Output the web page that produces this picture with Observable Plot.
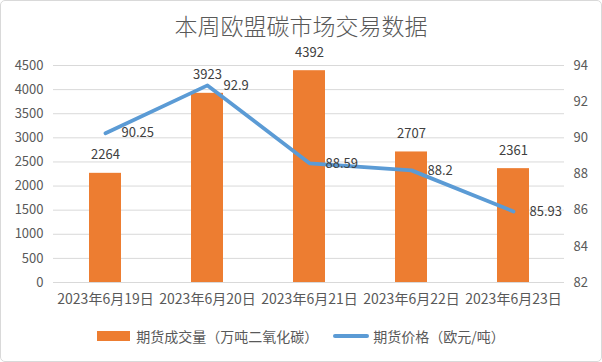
<!DOCTYPE html>
<html>
<head>
<meta charset="utf-8">
<script src="https://cdn.jsdelivr.net/npm/d3@7"></script>
<script src="https://cdn.jsdelivr.net/npm/@observablehq/plot@0.6"></script>
<style>
  html, body { margin: 0; padding: 0; background: #fff; }
  #wrap { position: relative; width: 602px; height: 362px; overflow: hidden; font-family: "Noto Sans CJK SC", "Noto Sans", sans-serif; }
  #frame { position: absolute; left: 0; top: 0; width: 602px; height: 362px; box-sizing: border-box; border: 1px solid #d9d9d9; border-radius: 5px; pointer-events: none; }
  #title { position: absolute; left: 0; top: 13px; width: 602px; text-align: center; font-size: 23px; line-height: 24px; color: #595959; font-weight: 300; }
  #chart { position: absolute; left: 0; top: 30px; }
  #legend { position: absolute; left: 0; top: 322px; width: 602px; height: 28px; display: flex; align-items: center; justify-content: center; font-size: 14px; color: #595959; }
  .sw-bar { width: 33px; height: 10px; background: #ed7d31; margin-right: 6px; }
  .sw-line { width: 36px; height: 4px; background: #5b9bd5; border-radius: 2px; margin-left: 15px; margin-right: 4px; }
</style>
</head>
<body>
<div id="wrap">
  <div id="title">本周欧盟碳市场交易数据</div>
  <div id="chart"></div>
  <div id="legend">
    <div class="sw-bar"></div><span>期货成交量（万吨二氧化碳）</span>
    <div class="sw-line"></div><span>期货价格（欧元/吨）</span>
  </div>
  <div id="frame"></div>
</div>
<script>
const dates = ["2023年6月19日", "2023年6月20日", "2023年6月21日", "2023年6月22日", "2023年6月23日"];
const volume = [2264, 3923, 4392, 2707, 2361];
const price = [90.25, 92.9, 88.59, 88.2, 85.93];
const volumeTicks = [0, 500, 1000, 1500, 2000, 2500, 3000, 3500, 4000, 4500];
const priceTicks = [82, 84, 86, 88, 90, 92, 94];

const volMax = 4500, pMin = 82, pMax = 94;
const toVol = p => (p - pMin) / (pMax - pMin) * volMax;
const toPrice = v => v / volMax * (pMax - pMin) + pMin;

const rows = dates.map((d, i) => ({date: d, volume: volume[i], price: price[i], py: toVol(price[i])}));

const chart = Plot.plot({
  width: 602,
  height: 290,
  marginTop: 35,
  marginBottom: 38,
  marginLeft: 53,
  marginRight: 38,
  style: {fontFamily: "'Noto Sans CJK SC', 'Noto Sans', sans-serif", color: "#595959", background: "transparent", overflow: "visible"},
  x: {domain: dates, paddingInner: 0.687, paddingOuter: 0.3435, label: null},
  y: {domain: [0, volMax], label: null},
  marks: [
    Plot.gridY(volumeTicks, {stroke: "#d9d9d9", strokeOpacity: 1, strokeWidth: 1}),
    Plot.barY(rows, {x: "date", y: "volume", fill: "#ed7d31"}),
    Plot.line(rows, {x: "date", y: "py", stroke: "#5b9bd5", strokeWidth: 3.8, strokeLinejoin: "round", strokeLinecap: "round"}),
    Plot.text(rows, {x: "date", y: "volume", text: d => String(d.volume), dy: -18, fill: "#404040", fontSize: 13}),
    Plot.text(rows, {x: "date", y: "py", text: d => String(d.price), dx: 16, textAnchor: "start", fill: "#404040", fontSize: 13}),
    Plot.axisY(volumeTicks, {anchor: "left", tickSize: 0, tickPadding: 10, fontSize: 13, fill: "#595959", label: null, tickFormat: v => String(v)}),
    Plot.axisY(priceTicks.map(toVol), {anchor: "right", tickSize: 0, tickPadding: 9, fontSize: 13, fill: "#595959", label: null, tickFormat: v => String(Math.round(toPrice(v)))}),
    Plot.axisX({tickSize: 0, tickPadding: 12, fontSize: 14, fill: "#595959", label: null})
  ]
});
document.getElementById("chart").appendChild(chart);
</script>
</body>
</html>
